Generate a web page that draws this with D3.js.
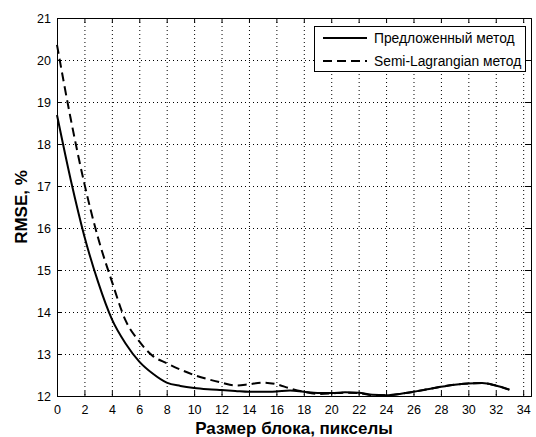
<!DOCTYPE html>
<html>
<head>
<meta charset="utf-8">
<script src="https://cdnjs.cloudflare.com/ajax/libs/d3/7.8.5/d3.min.js"></script>
<style>
  body { margin: 0; background: #fff; }
  svg { display: block; font-family: "Liberation Sans", Arial, sans-serif; }
</style>
</head>
<body>
<div id="chart"></div>
<script>
// block size, pixels
const blockSize = [0, 1, 2, 3, 4, 5, 6, 7, 8, 9, 10, 11, 12, 13, 14, 15, 16,
  17, 18, 19, 20, 21, 22, 23, 24, 25, 26, 27, 28, 29, 30, 31, 32, 33];

// RMSE, % - proposed method
const proposed = [18.69, 17.15, 15.8, 14.71, 13.83, 13.25, 12.82, 12.53, 12.32, 12.24,
  12.19, 12.16, 12.14, 12.12, 12.1, 12.1, 12.11, 12.13, 12.1, 12.07,
  12.07, 12.09, 12.08, 12.03, 12.02, 12.05, 12.1, 12.16, 12.22, 12.27,
  12.3, 12.31, 12.25, 12.15];

// RMSE, % - semi-lagrangian method
const semiLagrangian = [20.36, 18.6, 17.05, 15.76, 14.73, 13.8, 13.3, 12.95, 12.78, 12.63,
  12.5, 12.4, 12.32, 12.25, 12.28, 12.32, 12.28, 12.18, 12.1, 12.05,
  12.06, 12.08, 12.07, 12.02, 12.02, 12.05, 12.1, 12.16, 12.22, 12.27,
  12.3, 12.31, 12.25, 12.15];

const xTicks = d3.range(0, 35, 2);
const yTicks = d3.range(12, 22, 1);

const seriesNames = ['Предложенный метод', 'Semi-Lagrangian метод'];

const W = 536, H = 437;
const margin = { top: 18, right: 5, bottom: 41, left: 57 };
const width = W - margin.left - margin.right;
const height = H - margin.top - margin.bottom;

const svg = d3.select('#chart').append('svg')
  .attr('width', W)
  .attr('height', H);

const g = svg.append('g')
  .attr('transform', 'translate(' + margin.left + ',' + margin.top + ')');

const x = d3.scaleLinear().domain([0, 34.57]).range([0, width]);
const y = d3.scaleLinear().domain([12, 21]).range([height, 0]);

// grid
g.append('g').attr('class', 'grid')
  .selectAll('line.gx')
  .data(xTicks.filter(d => d > 0))
  .enter().append('line')
  .attr('x1', d => x(d) + 0.5).attr('x2', d => x(d) + 0.5)
  .attr('y1', 0).attr('y2', height)
  .attr('stroke', '#000').attr('stroke-dasharray', '1,3');

g.append('g').attr('class', 'grid')
  .selectAll('line.gy')
  .data(yTicks.filter(d => d > 12 && d < 21))
  .enter().append('line')
  .attr('x1', 0).attr('x2', width)
  .attr('y1', d => y(d) + 0.5).attr('y2', d => y(d) + 0.5)
  .attr('stroke', '#000').attr('stroke-dasharray', '1,3');

// axes (inward ticks)
const fmt = d3.format('d');
g.append('g')
  .attr('class', 'x-axis')
  .attr('transform', 'translate(0,' + height + ')')
  .call(d3.axisBottom(x).tickValues(xTicks).tickSize(-5).tickPadding(9).tickFormat(fmt));
g.append('g')
  .attr('class', 'x-axis-top')
  .call(d3.axisTop(x).tickValues(xTicks).tickSize(-5).tickFormat(''));
g.append('g')
  .attr('class', 'y-axis')
  .call(d3.axisLeft(y).tickValues(yTicks).tickSize(-5).tickPadding(6).tickFormat(fmt));
g.append('g')
  .attr('class', 'y-axis-right')
  .attr('transform', 'translate(' + width + ',0)')
  .call(d3.axisRight(y).tickValues(yTicks).tickSize(-5).tickFormat(''));

g.selectAll('.domain').attr('stroke', '#000');
g.selectAll('.tick line').attr('stroke', '#000');
g.selectAll('.tick text')
  .attr('fill', '#000')
  .style('font-size', '12.5px')
  .style('font-family', '"Liberation Sans", Arial, sans-serif');

// lines
const line = d3.line()
  .x((d, i) => x(blockSize[i]))
  .y(d => y(d))
  .curve(d3.curveMonotoneX);

g.append('path')
  .datum(semiLagrangian)
  .attr('fill', 'none')
  .attr('stroke', '#000')
  .attr('stroke-width', 2)
  .attr('stroke-dasharray', '9,5')
  .attr('d', line);

g.append('path')
  .datum(proposed)
  .attr('fill', 'none')
  .attr('stroke', '#000')
  .attr('stroke-width', 2)
  .attr('d', line);

// legend
const legend = svg.append('g').attr('class', 'legend');
legend.append('rect')
  .attr('x', 314.5).attr('y', 26.5)
  .attr('width', 211).attr('height', 45)
  .attr('fill', '#fff').attr('stroke', '#000');

seriesNames.forEach((name, i) => {
  const cy = 38 + i * 23;
  legend.append('line')
    .attr('x1', 323).attr('x2', 367)
    .attr('y1', cy).attr('y2', cy)
    .attr('stroke', '#000').attr('stroke-width', 2)
    .attr('stroke-dasharray', i === 0 ? null : '9,5');
  legend.append('text')
    .attr('x', 374).attr('y', cy + 5)
    .style('font-size', '13.8px')
    .text(name);
});

// axis titles
svg.append('text')
  .attr('x', margin.left + width / 2)
  .attr('y', 434)
  .attr('text-anchor', 'middle')
  .style('font-size', '17px')
  .style('font-weight', 'bold')
  .text('Размер блока, пикселы');

svg.append('text')
  .attr('transform', 'translate(27,' + (margin.top + height / 2) + ') rotate(-90)')
  .attr('text-anchor', 'middle')
  .style('font-size', '17px')
  .style('font-weight', 'bold')
  .text('RMSE, %');
</script>
</body>
</html>
